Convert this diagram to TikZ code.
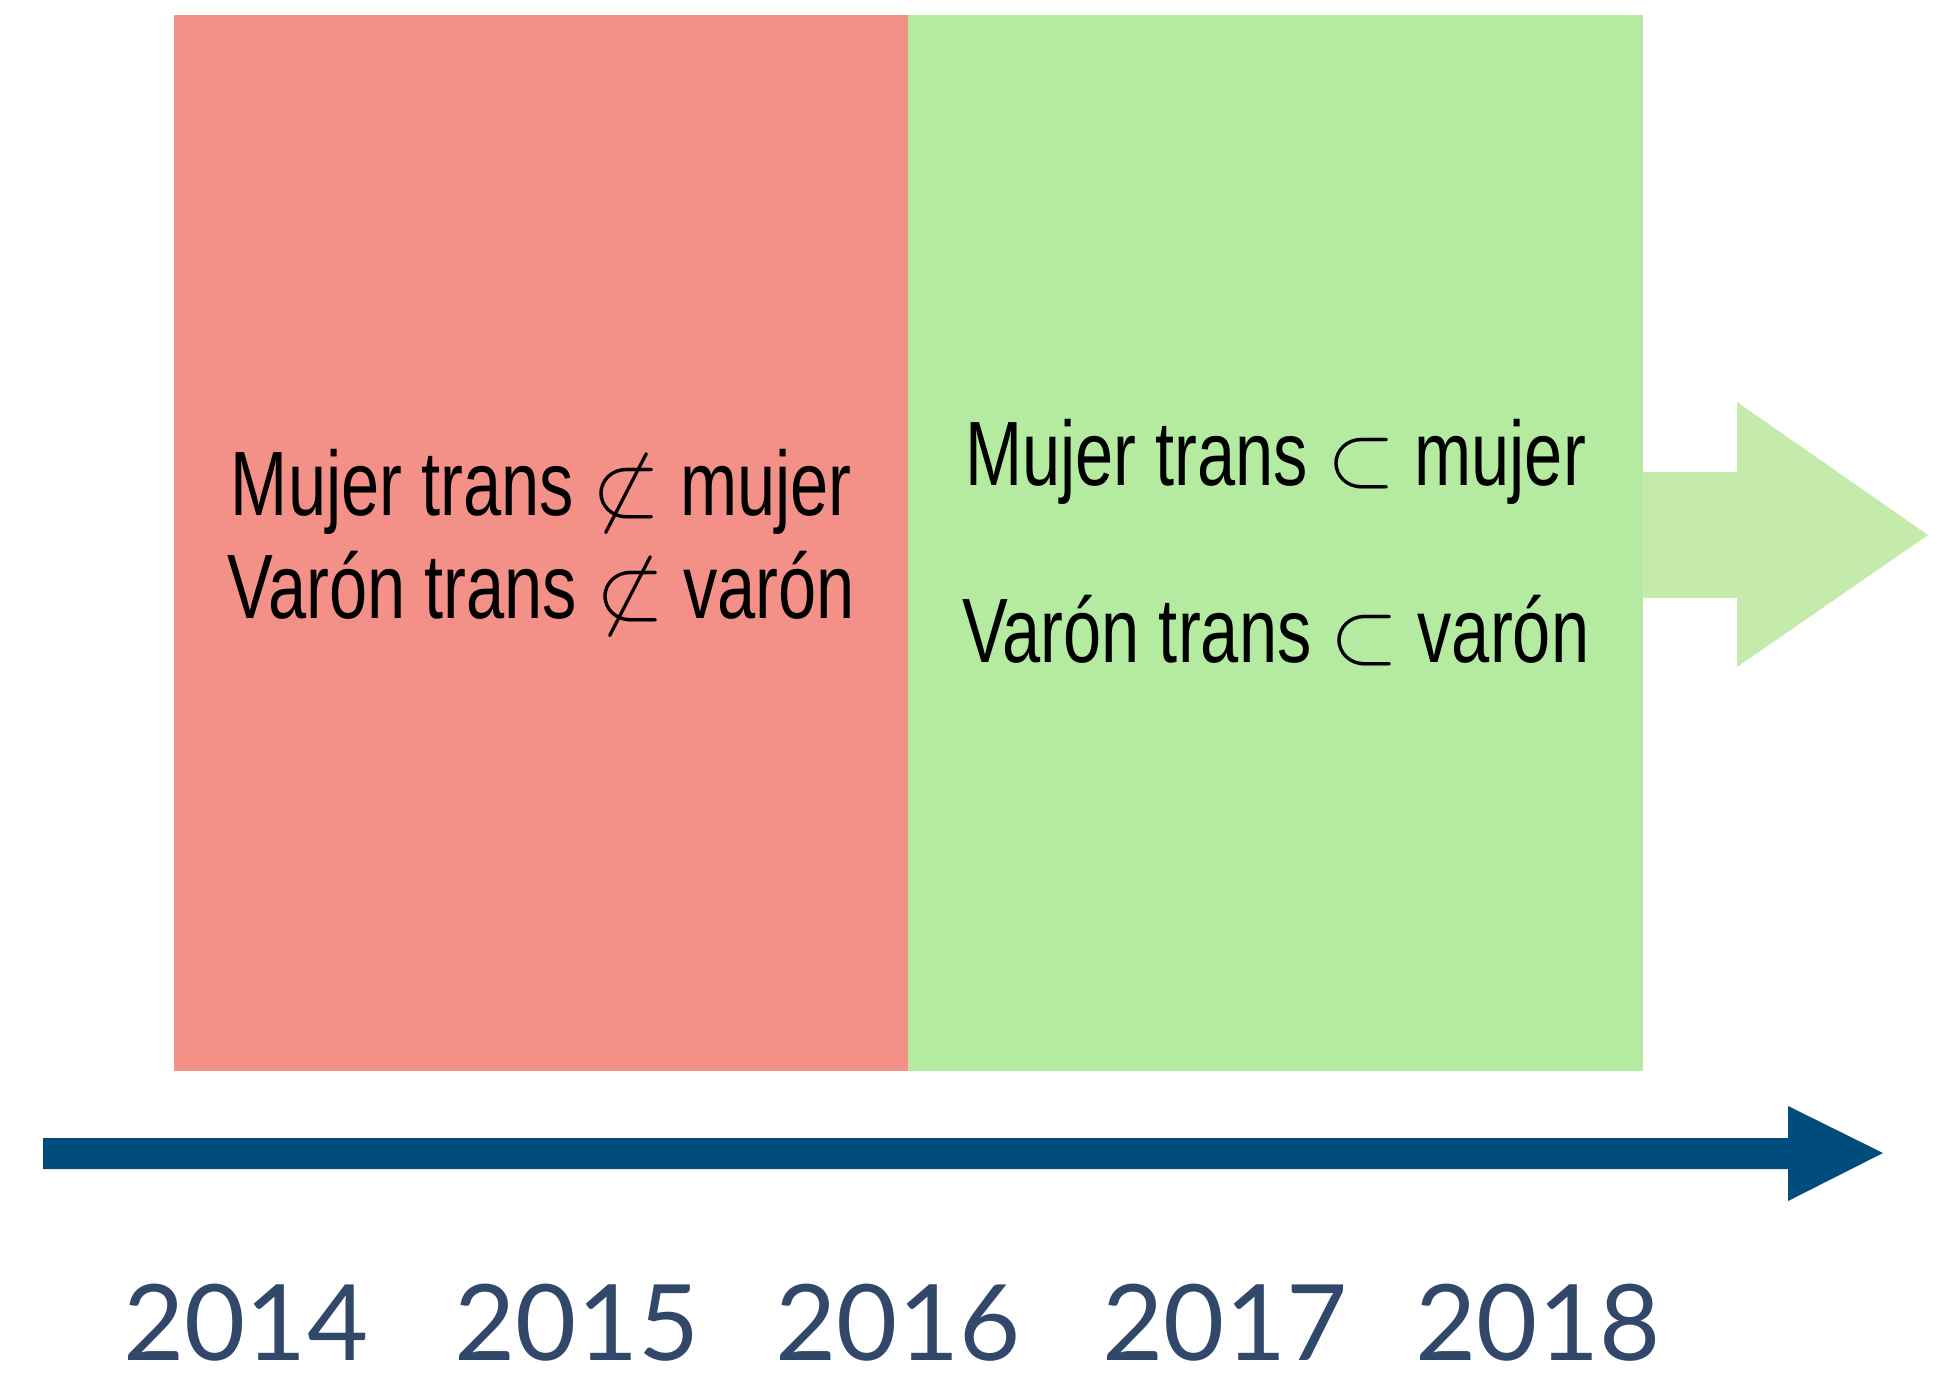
\documentclass[tikz,border=0pt]{standalone}
\usepackage{fontspec}
\setmainfont{Liberation Sans}[FakeStretch=0.75]
\newfontfamily\aniofont{Lato}
\usetikzlibrary{positioning}

\definecolor{rojo}{HTML}{F39188}
\definecolor{verde}{HTML}{B4EBA0}
\definecolor{verdeclaro}{HTML}{C4EBAB}
\definecolor{azul}{HTML}{004C7D}
\definecolor{aniocolor}{HTML}{32486A}

\begin{document}
\begin{tikzpicture}[x=0.01cm,y=-0.01cm]
				
				\tikzset{caja/.style={
						minimum width=7.34cm,
						minimum height=10.55cm,
						inner sep=0pt,
						outer sep=0pt,
						align=center,
						font=\fontsize{26}{29.3}\selectfont
					},
					anio/.style={
						text=aniocolor,
						inner sep=0pt,
						font=\aniofont\fontsize{30}{31}\selectfont,
						anchor=base
					}
				}
				\useasboundingbox (0,0) rectangle (1942,1378);
				
				\node[caja, fill=rojo, anchor=north west] (rojo) at (174,15)
				{Mujer trans $\not\subset$ mujer\\Varón trans $\not\subset$ varón};
				\node[caja, fill=verde, right=0pt of rojo] (verde)
				{Mujer trans $\subset$ mujer\\[21.1pt]Varón trans $\subset$ varón};
				
				\fill[verdeclaro] (1643,472) -- (1737,472) -- (1737,402) -- (1928,535)
				-- (1737,667) -- (1737,598) -- (1643,598) -- cycle;
				
				\fill[azul] (43,1138) -- (1788,1138) -- (1788,1106) -- (1883,1153)
				-- (1788,1201) -- (1788,1169) -- (43,1169) -- cycle;
				
				\foreach \a/\x in {2014/246, 2015/577, 2016/898, 2017/1225, 2018/1538}
				\node[anio] (a\a) at (\x,1360) {\a};
				
\end{tikzpicture}
\end{document}
